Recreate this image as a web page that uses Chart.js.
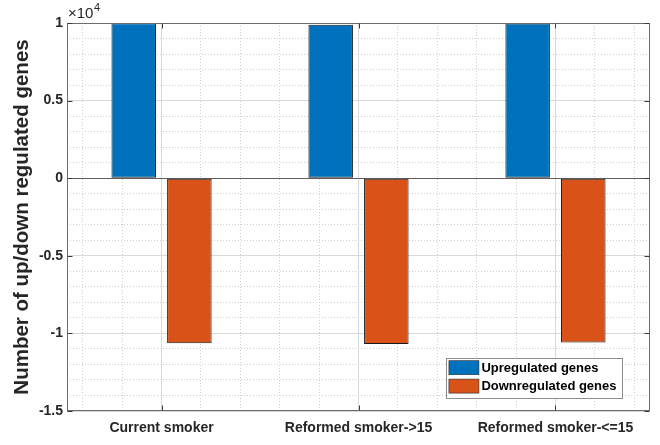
<!DOCTYPE html>
<html><head><meta charset="utf-8">
<script src="https://cdn.jsdelivr.net/npm/chart.js@4.4.1/dist/chart.umd.min.js"></script>
<style>html,body{margin:0;padding:0;background:#fff;} #wrap{width:660px;height:445px;position:relative}</style>
</head><body><div id="wrap"><canvas id="c" width="660" height="445"></canvas></div>
<script>
const categories = ['Current smoker', 'Reformed smoker->15', 'Reformed smoker-<=15'];
const upregulated = [9980, 9890, 9970];
const downregulated = [-10630, -10690, -10580];
const seriesNames = ['Upregulated genes', 'Downregulated genes'];
const yMajorValues = [-15000, -10000, -5000, 0, 5000, 10000];
const yTickLabels = ['-1.5', '-1', '-0.5', '0', '0.5', '1'];
const yExponent = '4';
const yTitle = 'Number of up/down regulated genes';

const FONT = "'Liberation Sans', Arial, Helvetica, sans-serif";
const TEXT = '#262626';
const BLUE = '#0072BD';
const ORANGE = '#D95319';
const isWhole = v => Math.abs(v - Math.round(v)) < 1e-6;

const framePlugin = {
  id: 'frame',
  afterDatasetsDraw(chart) {
    const ctx = chart.ctx, ca = chart.chartArea;
    const ys = chart.scales.y, xs = chart.scales.x;
    const L = Math.round(ca.left) + 0.5, R = Math.round(ca.right) - 0.5;
    const T = Math.round(ca.top) + 0.5, B = Math.round(ca.bottom) - 0.5;
    ctx.save();
    ctx.strokeStyle = '#6b6b6b';
    ctx.lineWidth = 1;
    ctx.strokeRect(L, T, R - L, B - T);
    ctx.strokeStyle = '#3a3a3a';
    ctx.beginPath();
    yMajorValues.forEach(v => {
      const py = Math.round(ys.getPixelForValue(v)) + 0.5;
      ctx.moveTo(L, py); ctx.lineTo(L + 5, py);
      ctx.moveTo(R, py); ctx.lineTo(R - 5, py);
    });
    categories.forEach((c, i) => {
      const px = Math.round(xs.getPixelForValue(i + 1)) + 0.5;
      ctx.moveTo(px, B); ctx.lineTo(px, B - 5);
      ctx.moveTo(px, T); ctx.lineTo(px, T + 5);
    });
    ctx.stroke();
    ctx.fillStyle = TEXT;
    ctx.textBaseline = 'alphabetic';
    ctx.textAlign = 'left';
    ctx.font = '15px ' + FONT;
    const base = '\u00d710';
    ctx.fillText(base, ca.left + 1, ca.top - 5);
    const w = ctx.measureText(base).width;
    ctx.font = '11px ' + FONT;
    ctx.fillText(yExponent, ca.left + 1 + w + 0.5, ca.top - 12);
    const ds = chart.data.datasets;
    ctx.font = 'bold 13px ' + FONT;
    let tw = 0;
    ds.forEach(d => { tw = Math.max(tw, ctx.measureText(d.label).width); });
    const boxW = 2.5 + 30 + 3 + tw + 5;
    const boxR = Math.round(ca.right) - 28, boxB = Math.round(ca.bottom) - 13;
    const rowH = 18.4;
    const boxH = 4 + rowH * ds.length - 0.5;
    const boxL = boxR - boxW, boxT = boxB - boxH;
    ctx.fillStyle = '#ffffff';
    ctx.fillRect(boxL, boxT, boxW, boxH);
    ctx.strokeStyle = '#8c8c8c';
    ctx.strokeRect(Math.round(boxL) + 0.5, Math.round(boxT) + 0.5, Math.round(boxW), Math.round(boxH));
    ds.forEach((d, i) => {
      const sy = boxT + 3 + i * rowH;
      ctx.fillStyle = d.backgroundColor;
      ctx.fillRect(boxL + 2.5, sy, 30, 14);
      ctx.strokeStyle = '#2a2a2a';
      ctx.lineWidth = 0.6;
      ctx.strokeRect(boxL + 2.5, sy, 30, 14);
      ctx.fillStyle = '#000';
      ctx.textBaseline = 'middle';
      ctx.fillText(d.label, boxL + 35, sy + 7.5);
    });
    ctx.restore();
  }
};

const barStyle = { borderColor: '#1a1a1a', borderWidth: 1, borderSkipped: false, categoryPercentage: 0.565, barPercentage: 0.8, xAxisID: 'x', yAxisID: 'y' };

new Chart(document.getElementById('c'), {
  type: 'bar',
  data: {
    datasets: [
      Object.assign({ label: seriesNames[0], backgroundColor: BLUE, data: categories.map((c, i) => ({ x: i + 1, y: upregulated[i] })) }, barStyle),
      Object.assign({ label: seriesNames[1], backgroundColor: ORANGE, data: categories.map((c, i) => ({ x: i + 1, y: downregulated[i] })) }, barStyle)
    ]
  },
  options: {
    responsive: false,
    animation: false,
    devicePixelRatio: 1,
    layout: { padding: { left: 6, top: 23, right: 10, bottom: 0 } },
    plugins: { legend: { display: false }, tooltip: { enabled: false } },
    scales: {
      x: {
        type: 'linear', position: 'bottom', min: 0.52, max: 3.48, offset: false,
        ticks: {
          stepSize: 1, includeBounds: false, autoSkip: false, maxRotation: 0, minRotation: 0,
          padding: 9, color: TEXT, font: { family: FONT, size: 14, weight: 'bold' },
          callback: v => (isWhole(v) && categories[Math.round(v) - 1]) ? categories[Math.round(v) - 1] : ''
        },
        grid: { color: '#d9d9d9', drawTicks: false, lineWidth: 1, offset: false },
        border: { display: false },
        afterFit: s => { s.height = 34; }
      },
      x2: {
        type: 'linear', position: 'bottom', min: 0.52, max: 3.48, offset: false,
        ticks: { display: false, stepSize: 0.2, includeBounds: false, autoSkip: false },
        grid: { drawTicks: false, offset: false, color: c => (c.tick && isWhole(c.tick.value)) ? 'rgba(0,0,0,0)' : '#cfcfcf' },
        border: { display: false, dash: c => c.tick ? [1, 2] : [] },
        afterFit: s => { s.height = 0; }
      },
      y: {
        min: -15000, max: 10000,
        ticks: {
          stepSize: 1000, autoSkip: false, padding: 4, color: TEXT,
          font: { family: FONT, size: 14, weight: 'bold' },
          callback: v => { const i = yMajorValues.indexOf(v); return i >= 0 ? yTickLabels[i] : ''; }
        },
        grid: {
          drawTicks: false,
          color: c => { if (!c.tick) return '#d9d9d9'; const v = c.tick.value; if (v === 0) return '#5e5e5e'; return (v % 5000 === 0) ? '#d9d9d9' : '#cfcfcf'; }
        },
        border: { display: false, dash: c => { if (!c.tick) return []; return (c.tick.value % 5000 === 0) ? [] : [1, 2]; } },
        title: { display: true, text: yTitle, color: TEXT, font: { family: FONT, size: 20.5, weight: 'bold' }, padding: { top: 4, bottom: 4 } },
        afterFit: s => { s.width = 61; }
      }
    }
  },
  plugins: [framePlugin]
});
</script>
</body></html>
